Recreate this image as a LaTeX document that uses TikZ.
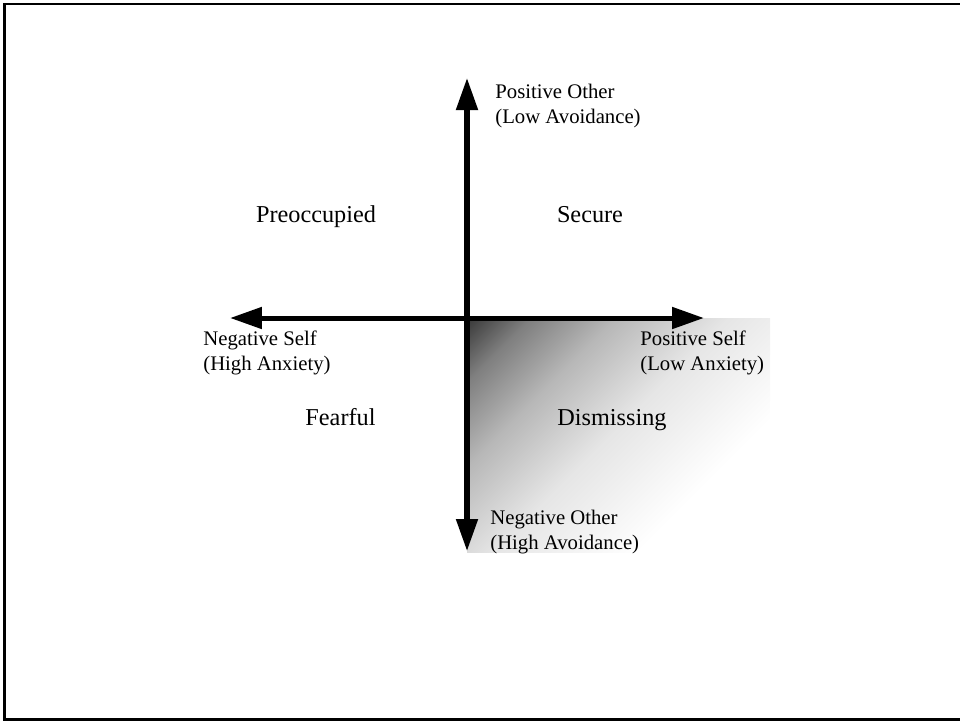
\documentclass[tikz,border=0pt]{standalone}
\usepackage{fontspec}
\setmainfont{Liberation Serif}
\usetikzlibrary{arrows.meta}

\pgfdeclarehorizontalshading{quadshade}{100bp}{color(0bp)=(black!78); color(14.6bp)=(black!78); color(22bp)=(black!50); color(32bp)=(black!28); color(45bp)=(black!10); color(62bp)=(white); color(100bp)=(white)}

\tikzset{
	axis/.style={line width=2.85pt, {Triangle[length=0.64cm,width=0.42cm]}-{Triangle[length=0.64cm,width=0.42cm]}},
	axlabel/.style={font=\fontsize{11.8}{14.2}\selectfont, align=left, inner sep=0pt},
	quadlabel/.style={font=\fontsize{13.8}{16}\selectfont, inner sep=0pt}
}

\begin{document}
\begin{tikzpicture}
	\useasboundingbox (-9.34,-8.06) rectangle (9.86,6.36);
	\draw[line width=1.7pt] (9.9,6.28) -- (-9.25,6.28) -- (-9.25,-8.02) -- (9.9,-8.02);

	% shaded quadrant
	\begin{scope}
		\clip (0,0) rectangle (6.06,-4.68);
		\shade[shading=quadshade, shading angle=-45] (0,0) rectangle (6.06,-6.06);
	\end{scope}

	\coordinate (top) at (0,4.8);
	\coordinate (bottom) at (0,-4.66);
	\coordinate (left) at (-4.74,0);
	\coordinate (right) at (4.74,0);
	\draw[axis] (bottom) -- (top);
	\draw[axis] (left) -- (right);

	% base = baseline of the second line
	\node[axlabel, anchor=base west] (posother) at (0.56,3.9) {Positive Other\\(Low Avoidance)};
	\node[axlabel, anchor=base west] (negother) at (0.46,-4.62) {Negative Other\\(High Avoidance)};
	\node[axlabel, anchor=base west] (negself) at (-5.28,-1.04) {Negative Self\\(High Anxiety)};
	\node[axlabel, anchor=base west] (posself) at (3.46,-1.04) {Positive Self\\(Low Anxiety)};

	\node[quadlabel, anchor=base] (preocc) at (-3.02,1.92) {Preoccupied};
	\node[quadlabel, anchor=base] (secure) at (2.46,1.92) {Secure};
	\node[quadlabel, anchor=base] (fearful) at (-2.53,-2.14) {Fearful};
	\node[quadlabel, anchor=base] (dismiss) at (2.9,-2.14) {Dismissing};
\end{tikzpicture}
\end{document}
